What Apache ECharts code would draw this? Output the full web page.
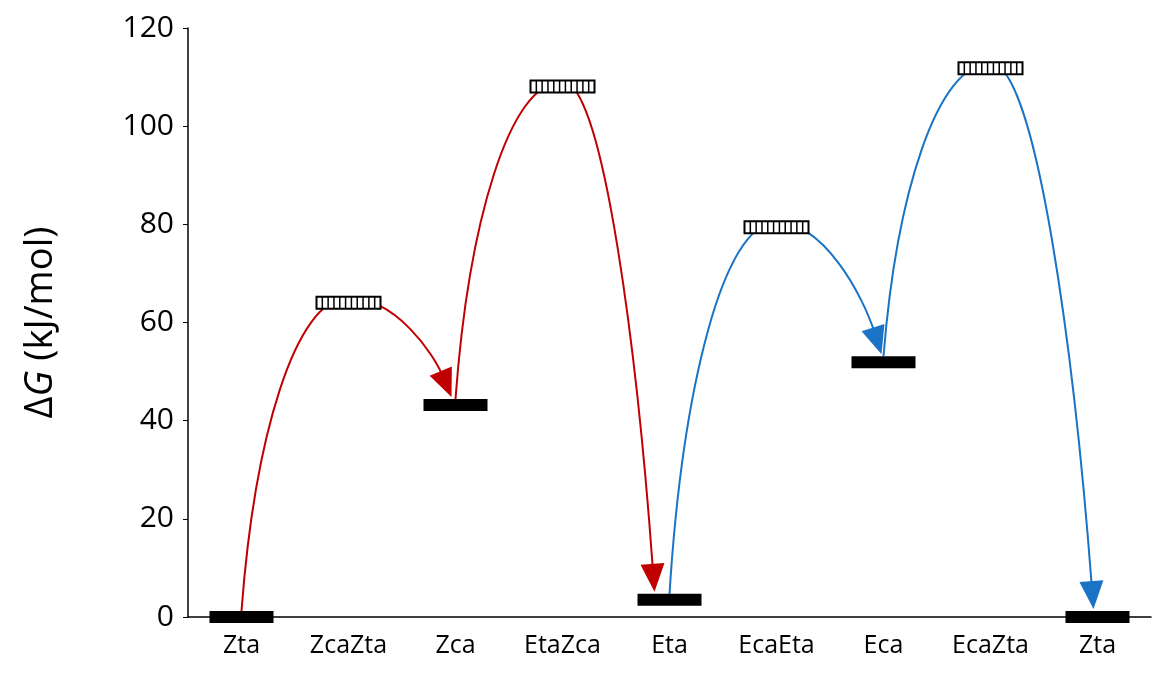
<!DOCTYPE html>
<html><head><meta charset="utf-8">
<script src="https://cdn.jsdelivr.net/npm/echarts@6/dist/echarts.min.js"></script>
<style>html,body{margin:0;padding:0;background:#fff}#c{width:1166px;height:691px}</style>
</head><body><div id="c"></div>
<script>
const categories = ['Zta','ZcaZta','Zca','EtaZca','Eta','EcaEta','Eca','EcaZta','Zta'];
const stateValues = [0, 64, 43.2, 108.1, 3.5, 79.4, 51.9, 111.8, 0];
const isTransition = [false, true, false, true, false, true, false, true, false];
// curves: [startIndex, peakIndex, endIndex]
const curveStart = [0, 2, 4, 6];
const curvePeak  = [1, 3, 5, 7];
const curveEnd   = [2, 4, 6, 8];
const curveColor = ['#C00000', '#C00000', '#1A73C4', '#1A73C4'];
const endShift = [-4, -15, -2, -4];

const chart = echarts.init(document.getElementById('c'));
const BW = 64, BH = 12;

function curveItem(params, api) {
  const i = params.dataIndex;
  const S = api.coord([curveStart[i], stateValues[curveStart[i]]]);
  const P = api.coord([curvePeak[i], stateValues[curvePeak[i]]]);
  const E0 = api.coord([curveEnd[i], stateValues[curveEnd[i]]]);
  S[1] -= BH/2; P[1] -= BH/2 - 1;
  const E = [E0[0] + endShift[i], E0[1] - BH/2 - 2];
  const col = curveColor[i];
  const dx1 = P[0]-S[0], dx2 = E[0]-P[0], dy2 = E[1]-P[1];
  const c1 = [S[0]+0.12*dx1, S[1]-0.55*(S[1]-P[1])];
  const c2 = [P[0]-0.5*dx1, P[1]];
  const c3 = [P[0]+0.45*dx2, P[1]];
  const c4 = [E[0]-0.18*dx2, E[1]-0.45*dy2];
  let ux = E[0]-c4[0], uy = E[1]-c4[1];
  const L = Math.hypot(ux, uy); ux/=L; uy/=L;
  const AL = 28, AW = 12;
  const base = [E[0]-ux*AL, E[1]-uy*AL];
  const lineEnd = [E[0]-ux*AL*0.8, E[1]-uy*AL*0.8];
  return {type:'group', children:[
    {type:'bezierCurve', shape:{x1:S[0],y1:S[1],cpx1:c1[0],cpy1:c1[1],cpx2:c2[0],cpy2:c2[1],x2:P[0],y2:P[1]}, style:{stroke:col,lineWidth:2,fill:null}},
    {type:'bezierCurve', shape:{x1:P[0],y1:P[1],cpx1:c3[0],cpy1:c3[1],cpx2:c4[0],cpy2:c4[1],x2:lineEnd[0],y2:lineEnd[1]}, style:{stroke:col,lineWidth:2,fill:null}},
    {type:'polygon', shape:{points:[E,[base[0]-uy*AW,base[1]+ux*AW],[base[0]+uy*AW,base[1]-ux*AW]]}, style:{fill:col}}
  ]};
}

function barItem(params, api) {
  const i = params.dataIndex;
  const p = api.coord([i, stateValues[i]]);
  const x = p[0]-BW/2, y = p[1]-BH/2;
  if (!isTransition[i]) {
    return {type:'rect', shape:{x:x,y:y,width:BW,height:BH}, style:{fill:'#000'}};
  }
  const ch = [{type:'rect', shape:{x:x,y:y,width:BW,height:BH}, style:{fill:'#fff',stroke:'#000',lineWidth:2}}];
  for (let k = 1; k < 11; k++) {
    const lx = x + k*BW/11;
    ch.push({type:'line', shape:{x1:lx,y1:y,x2:lx,y2:y+BH}, style:{stroke:'#000',lineWidth:1.5}});
  }
  return {type:'group', children:ch};
}

chart.setOption({
  animation:false,
  textStyle:{fontFamily:'Open Sans'},
  grid:{left:188,right:15,top:28,bottom:74},
  xAxis:{type:'category',data:categories,boundaryGap:true,
    axisLine:{lineStyle:{color:'#000',width:1.5}},axisTick:{show:false},
    axisLabel:{color:'#000',fontSize:25,margin:16,fontFamily:'Open Sans'}},
  yAxis:{type:'value',min:0,max:120,interval:20,
    name:'{d|Δ}{g|G}{d| (kJ/mol)}',nameLocation:'middle',nameGap:128,nameRotate:90,
    nameTextStyle:{rich:{d:{fontSize:38,color:'#000',fontFamily:'Open Sans'},g:{fontSize:38,color:'#000',fontStyle:'italic',fontFamily:'Open Sans'}}},
    axisLine:{show:true,lineStyle:{color:'#000',width:1.5}},axisTick:{show:true,length:5,lineStyle:{color:'#000'}},
    splitLine:{show:false},
    axisLabel:{color:'#000',fontSize:30,margin:14,fontFamily:'Open Sans'}},
  series:[
    {type:'custom',renderItem:curveItem,data:curveStart.map((s,i)=>[s,stateValues[s]]),z:2,clip:false},
    {type:'custom',renderItem:barItem,data:stateValues.map((v,i)=>[i,v]),z:3,clip:false}
  ]
});
</script></body></html>
